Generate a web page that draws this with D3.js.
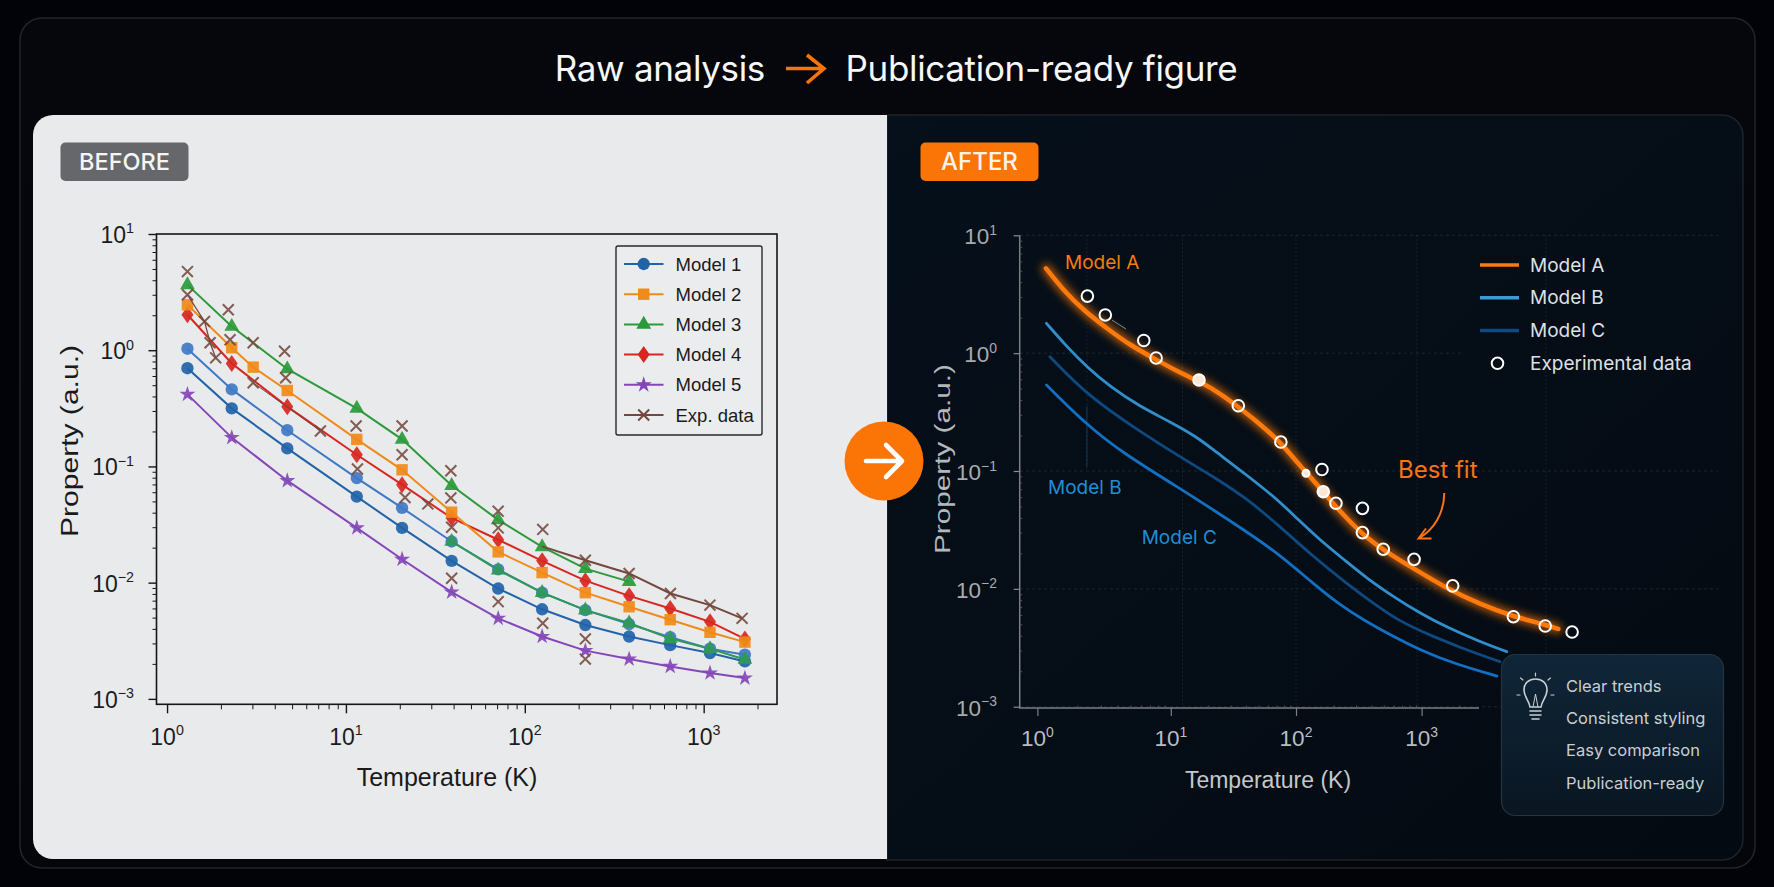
<!DOCTYPE html>
<html><head><meta charset="utf-8">
<script src="https://cdn.jsdelivr.net/npm/d3@7/dist/d3.min.js"></script>
<style>html,body{margin:0;padding:0;background:#020308;overflow:hidden}svg{display:block}</style>
</head><body><svg id="c" width="1774" height="887"></svg>
<script>
// ---------- data ----------
const titleLeft = "Raw analysis", titleRight = "Publication-ready figure";
const xTickValues = [1, 10, 100, 1000];
const yTickValues = [10, 1, 0.1, 0.01, 0.001];
const tempBefore = [1.3, 2.3, 4.7, 11.5, 20.6, 39, 71, 125, 218, 383, 650, 1085, 1700];
const model1Upper = [1.03, .46, .205, .0794, .044, .0226, .013, .0082, .0058, .0044, .0034, .0027, .0024];
const model1 = [.70, .316, .143, .055, .0296, .0154, .0089, .0059, .00432, .00344, .0029, .00248, .0021];
const temp2 = [1.3, 2.3, 3.03, 4.7, 11.5, 20.6, 39, 71, 125, 218, 383, 650, 1085, 1700];
const model2 = [2.46, 1.05, .715, .45, .171, .0935, .0404, .0184, .0122, .0082, .0062, .0048, .00374, .00308];
const temp3 = [1.3, 2.3, 4.7, 11.5, 20.6, 39, 71, 125, 218, 383];
const model3 = [3.65, 1.6, .69, .316, .171, .0684, .0347, .0203, .0132, .0102];
const temp3Tail = [39, 71, 125, 218, 383, 650, 1085, 1700];
const model3Tail = [.0226, .0128, .0082, .0058, .0045, .0033, .0027, .00218];
const model4 = [2.02, .77, .327, .126, .0697, .036, .0234, .0154, .0104, .0077, .006, .0046, .00328];
const model5 = [.417, .177, .0754, .0296, .0159, .0083, .00493, .00344, .0026, .0022, .0019, .00167, .00151];
const expT = [1.3,1.3,1.62,1.74,1.87,2.2,2.25,3.03,3.03,4.54,4.6,7.2,11.4,20.6,20.6,11.6,21.4,28.7,38.6,38.6,39,71,71,126,39,71,126,218,218,218,383,652,1084,1640];
const expV = [4.75,3.0,1.77,1.16,.86,2.23,1.23,1.16,.525,.98,.58,.202,.223,.223,.126,.095,.054,.0476,.0918,.0536,.03,.0412,.0296,.0287,.0109,.00686,.00447,.00328,.0022,.0156,.012,.00807,.00641,.00493];
const expHeadT = [1.3,1.62,1.74,1.87], expHeadV = [3.0,1.77,1.16,.86];
const expMidT = [3.03,7.2], expMidV = [.525,.202];
const expTailT = [125,218,383,652,1084,1640], expTailV = [.0205,.0156,.012,.00807,.00641,.00493];
const legendBefore = ["Model 1","Model 2","Model 3","Model 4","Model 5","Exp. data"];

const tempA = [1.16,1.56,2.21,3.3,4.94,7.83,11.8,17.1,24.7,35.7,48.5,74.6,101,137,186,253,344,495,859,1585,2924,5395,9960,12300];
const modelA = [5.25,3.44,2.32,1.63,1.17,.875,.682,.573,.456,.34,.265,.177,.12,.0839,.0568,.0397,.0286,.0214,.0149,.0101,.0074,.00581,.00493,.00457];
const tempB = [1.17,1.66,2.34,3.5,5.87,9.86,16.1,21.9,40.4,74.6,101,155,253,366,596,970,1585,2924,4775];
const modelB = [1.79,1.135,.767,.519,.352,.262,.195,.151,.0925,.055,.0397,.026,.017,.0123,.00859,.00621,.00472,.00356,.00293];
const tempC = [1.24,2.34,5.87,11.8,21.9,40.4,74.6,137,253,413,673,1239,2291,4217];
const modelC = [.933,.442,.216,.132,.0895,.0586,.0337,.0188,.0111,.00754,.00526,.00393,.00303,.00241];
const tempLow = [1.17,2.34,4.41,11.8,21.9,40.4,74.6,137,224,344,596,970,1791,3981];
const modelLow = [.537,.246,.141,.0713,.0467,.0305,.0194,.0111,.00729,.00545,.00393,.00303,.00233,.00182];
const dataT = [2.37,3.23,6.27,7.76,16.8,34.6,75.7,161,120,165,208,338,338,495,871,1770,5395,9680,15850];
const dataV = [3.05,2.11,1.28,.91,.592,.358,.176,.103,.0955,.0667,.0532,.0482,.03,.0217,.0178,.0106,.0058,.00484,.0043];
const dataFilled = [16.8,120,165];
const strayT = [3.62,4.62], strayV = [1.91,1.6];
const legendAfter = ["Model A","Model B","Model C","Experimental data"];
const tips = ["Clear trends","Consistent styling","Easy comparison","Publication-ready"];
const gridT = [2.35,12.4,100,920,9800];
const gridAccentV = [.356,.108];

// ---------- helpers ----------
const svg = d3.select("#c");
const SANS = "Inter, 'Noto Sans', sans-serif", ARIAL = "'Liberation Sans', Arial, sans-serif";
const defs = svg.append("defs");
const glow = defs.append("filter").attr("id","glow").attr("x","-20%").attr("y","-20%").attr("width","140%").attr("height","140%");
glow.append("feGaussianBlur").attr("stdDeviation",4);
const g1 = defs.append("linearGradient").attr("id","panel").attr("x1",0).attr("y1",0).attr("x2",1).attr("y2",1);
g1.append("stop").attr("offset",0).attr("stop-color","#06101a");
g1.append("stop").attr("offset",1).attr("stop-color","#040a12");
const g2 = defs.append("linearGradient").attr("id","tip").attr("x1",0).attr("y1",0).attr("x2",0).attr("y2",1);
g2.append("stop").attr("offset",0).attr("stop-color","#0f2638");
g2.append("stop").attr("offset",1).attr("stop-color","#0a1622");
const g3 = defs.append("linearGradient").attr("id","card").attr("x1",0).attr("y1",0).attr("x2",0).attr("y2",1);
g3.append("stop").attr("offset",0).attr("stop-color","#05070c");
g3.append("stop").attr("offset",1).attr("stop-color","#04060a");

function text(parent,x,y,s,o={}){
  return parent.append("text").attr("x",x).attr("y",y).text(s)
    .attr("font-family",o.font||SANS).attr("font-size",o.size||18).attr("fill",o.fill||"#fff")
    .attr("font-weight",o.weight||400).attr("text-anchor",o.anchor||"start");
}
function powLabel(parent,x,y,v,anchor,fill,size,font){
  const e = Math.round(Math.log10(v));
  const t = parent.append("text").attr("x",x).attr("y",y).attr("text-anchor",anchor)
    .attr("font-family",font).attr("font-size",size).attr("fill",fill);
  t.append("tspan").text("10");
  t.append("tspan").attr("dy",-size*0.42).attr("font-size",size*0.62).text(String(e).replace("-","\u2212"));
}
function minorTicks(lo,hi){ const r=[]; for(let e=lo;e<hi;e++) for(let m=2;m<10;m++) r.push(m*Math.pow(10,e)); return r; }

// ---------- frame ----------
svg.append("rect").attr("width",1774).attr("height",887).attr("fill","#020308");
svg.append("rect").attr("x",20).attr("y",18).attr("width",1735).attr("height",850).attr("rx",22)
  .attr("fill","url(#card)").attr("stroke","#22252b").attr("stroke-width",1.5);
text(svg,765,81,titleLeft,{size:35,anchor:"end",fill:"#f6f7f8"}).attr("letter-spacing",-.33);
text(svg,845.5,81,titleRight,{size:35,fill:"#f6f7f8"}).attr("letter-spacing",-.33);
svg.append("path").attr("d","M786,68.5H823M807,55L824,68.5L807,83").attr("fill","none")
  .attr("stroke","#fb7406").attr("stroke-width",3.6);

// panels
svg.append("path").attr("d","M887,115H1722a21,21 0 0 1 21,21V839a21,21 0 0 1 -21,21H887Z")
  .attr("fill","url(#panel)").attr("stroke","#1c232b").attr("stroke-width",1.5);
svg.append("path").attr("d","M887,115H53a20,20 0 0 0 -20,20V839a20,20 0 0 0 20,20H887Z").attr("fill","#e9eaec");

// badges
svg.append("rect").attr("x",60.5).attr("y",142.5).attr("width",128).attr("height",38.5).attr("rx",5).attr("fill","#65676b");
text(svg,124.5,170,"BEFORE",{size:23.5,anchor:"middle",weight:500,fill:"#f5f5f5"});
svg.append("rect").attr("x",920.5).attr("y",142.5).attr("width",118).attr("height",38.5).attr("rx",5).attr("fill","#fb7406");
text(svg,979.5,170,"AFTER",{size:24,anchor:"middle",weight:500,fill:"#fff4ea"});

// ---------- BEFORE chart ----------
const L = svg.append("g");
const xL = d3.scaleLog().domain([0.873,2570]).range([156.5,777]);
const yL = d3.scaleLog().domain([8.98e-4,10]).range([704.3,234]);
const INK = "#161616";
L.append("rect").attr("x",156.5).attr("y",234).attr("width",620.5).attr("height",470.3).attr("fill","none").attr("stroke",INK).attr("stroke-width",1.6);
function axisStyle(g,col,w){ g.select(".domain").remove(); g.selectAll("line").attr("stroke",col).attr("stroke-width",w); g.selectAll("text").remove(); }
L.append("g").attr("transform","translate(0,704.3)").call(d3.axisBottom(xL).tickValues(xTickValues).tickSize(9).tickFormat("")).call(axisStyle,INK,1.4);
L.append("g").attr("transform","translate(0,704.3)").call(d3.axisBottom(xL).tickValues(minorTicks(0,3).concat([2000])).tickSize(5).tickFormat("")).call(axisStyle,INK,1);
L.append("g").attr("transform","translate(156.5,0)").call(d3.axisLeft(yL).tickValues(yTickValues).tickSize(8).tickFormat("")).call(axisStyle,INK,1.4);
L.append("g").attr("transform","translate(156.5,0)").call(d3.axisLeft(yL).tickValues(minorTicks(-3,1)).tickSize(4).tickFormat("")).call(axisStyle,INK,1);
xTickValues.forEach(v=>powLabel(L,xL(v),745,v,"middle","#1c1c1c",23,ARIAL));
yTickValues.forEach(v=>powLabel(L,134,yL(v)+9,v,"end","#1c1c1c",23,ARIAL));
text(L,447,785.5,"Temperature (K)",{font:ARIAL,size:25,anchor:"middle",fill:"#1a1a1a"});
text(L,0,0,"Property (a.u.)",{font:ARIAL,size:23.5,anchor:"middle",fill:"#1a1a1a"})
  .attr("textLength",192).attr("lengthAdjust","spacingAndGlyphs").attr("transform","translate(77.5,441) rotate(-90)");

const lineL = d3.line().x(d=>xL(d[0])).y(d=>yL(d[1]));
const zip=(a,b)=>a.map((v,i)=>[v,b[i]]);
const sym = {circle:d3.symbol(d3.symbolCircle,120)(),square:d3.symbol(d3.symbolSquare,130)(),
  triangle:d3.symbol(d3.symbolTriangle,95)(),diamond:"M0,-8.5L6,0L0,8.5L-6,0Z",star:d3.symbol(d3.symbolStar,80)(),x:d3.symbol(d3.symbolTimes,80)()};
const seriesL = [
 {t:tempBefore,v:model1,c:"#2163a8",s:"circle"},
 {t:tempBefore,v:model1Upper,c:"#3f78c4",s:"circle"},
 {t:temp3Tail,v:model3Tail,c:"#2f9a55",s:"triangle"},
 {t:tempBefore,v:model5,c:"#8446b8",s:"star"},
 {t:tempBefore,v:model4,c:"#d8261f",s:"diamond"},
 {t:temp2,v:model2,c:"#f08a18",s:"square"},
 {t:temp3,v:model3,c:"#2b9a3a",s:"triangle"}
];
const BROWN="#74483c";
seriesL.forEach(s=>{
  const pts=zip(s.t,s.v);
  L.append("path").attr("d",lineL(pts)).attr("fill","none").attr("stroke",s.c).attr("stroke-width",2);
  L.append("g").selectAll("path").data(pts).join("path")
   .attr("transform",d=>`translate(${xL(d[0])},${yL(d[1])})`).attr("d",sym[s.s]).attr("fill",s.c).attr("fill-opacity",.92);
});
[[expHeadT,expHeadV,1.3],[expMidT,expMidV,1],[expTailT,expTailV,2]].forEach(([t,v,w])=>
  L.append("path").attr("d",lineL(zip(t,v))).attr("fill","none").attr("stroke",BROWN).attr("stroke-width",w));
L.append("g").selectAll("path").data(zip(expT,expV)).join("path")
  .attr("transform",d=>`translate(${xL(d[0])},${yL(d[1])})`).attr("d",sym.x)
  .attr("fill","none").attr("stroke",BROWN).attr("stroke-width",2).attr("stroke-opacity",.88);
// legend
L.append("rect").attr("x",616).attr("y",246).attr("width",146).attr("height",189).attr("rx",2).attr("fill","#ebecee").attr("stroke","#2a2a2a").attr("stroke-width",1.4);
const legC=[["#2163a8","circle"],["#f08a18","square"],["#2b9a3a","triangle"],["#d8261f","diamond"],["#8446b8","star"],[BROWN,"x"]];
const legY=d3.scalePoint().domain(legendBefore).range([264,415]);
legendBefore.forEach((n,i)=>{
  const y=legY(n), isX=legC[i][1]==="x";
  L.append("line").attr("x1",624).attr("x2",663.5).attr("y1",y).attr("y2",y).attr("stroke",legC[i][0]).attr("stroke-width",2);
  L.append("path").attr("transform",`translate(643.7,${y})`).attr("d",sym[legC[i][1]])
    .attr("fill",isX?"none":legC[i][0]).attr("stroke",isX?legC[i][0]:"none").attr("stroke-width",2);
  text(L,675.5,y+6.5,n,{font:ARIAL,size:18.5,fill:"#1a1a1a"});
});

// ---------- AFTER chart ----------
const R = svg.append("g");
const xR = d3.scaleLog().domain([1,10,100,1000,10000]).range([1037.4,1170.8,1296,1421.6,1547]);
const yR = d3.scaleLog().domain([1e-3,10]).range([706.7,235.3]);
const GRID="#1b2632";
yTickValues.forEach(v=>{
  const end = v===1?1461:1718;
  R.append("line").attr("x1",1020).attr("x2",end).attr("y1",yR(v)).attr("y2",yR(v)).attr("stroke",GRID).attr("stroke-dasharray","3 3");
});
gridT.forEach((v,i)=>R.append("line").attr("x1",xR(v)).attr("x2",xR(v)).attr("y1",235).attr("y2",i===0?470:708).attr("stroke",GRID).attr("stroke-width",.8).attr("stroke-dasharray","2 2"));
R.append("line").attr("x1",xR(gridT[0])).attr("x2",xR(gridT[0])).attr("y1",yR(gridAccentV[0])).attr("y2",yR(gridAccentV[1])).attr("stroke","#123a5c").attr("stroke-width",1);
R.append("line").attr("x1",1019.7).attr("x2",1019.7).attr("y1",235.3).attr("y2",708).attr("stroke","#7b7e84").attr("stroke-width",1.5);
R.append("line").attr("x1",1019).attr("x2",1479).attr("y1",708).attr("y2",708).attr("stroke","#7b7e84").attr("stroke-width",1.5);
R.append("g").attr("transform","translate(0,708)").call(d3.axisBottom(xR).tickValues(xTickValues).tickSize(8).tickFormat("")).call(axisStyle,"#7b7e84",1.2);
R.append("g").attr("transform","translate(0,708)").call(d3.axisTop(xR).tickValues(minorTicks(0,3).concat([2000])).tickSize(2.5).tickFormat("")).call(axisStyle,"#55585e",1);
R.append("g").attr("transform","translate(1019.7,0)").call(d3.axisLeft(yR).tickValues(yTickValues).tickSize(6).tickFormat("")).call(axisStyle,"#8a8d93",1.2);
R.append("g").attr("transform","translate(1019.7,0)").call(d3.axisRight(yR).tickValues(minorTicks(-3,1)).tickSize(2.5).tickFormat("")).call(axisStyle,"#55585e",1);
xTickValues.forEach(v=>powLabel(R,xR(v),746,v,"middle","#b9bcc1",22.5,ARIAL));
yTickValues.forEach(v=>powLabel(R,997,yR(v)+9,v,"end","#a7aaaf",22.5,ARIAL));
text(R,1268,788,"Temperature (K)",{font:ARIAL,size:23,anchor:"middle",fill:"#c4c7cb"});
text(R,0,0,"Property (a.u.)",{font:ARIAL,size:22,anchor:"middle",fill:"#b4b7bc"})
  .attr("textLength",190).attr("lengthAdjust","spacingAndGlyphs").attr("transform","translate(950,459) rotate(-90)");

const lineR = d3.line().x(d=>xR(d[0])).y(d=>yR(d[1])).curve(d3.curveBasis);
const drawR=(t,v,c,w)=>R.append("path").attr("d",lineR(zip(t,v))).attr("fill","none").attr("stroke",c).attr("stroke-width",w).attr("stroke-linecap","round");
drawR(tempLow,modelLow,"#1170c2",2.8);
drawR(tempC,modelC,"#0e4a82",2.8);
drawR(tempB,modelB,"#2f8fcd",2.8);
drawR(tempA,modelA,"#ff7a0a",9).attr("filter","url(#glow)").attr("opacity",.7);
drawR(tempA,modelA,"#ff7a0a",4.5);
R.append("path").attr("d",d3.line().x(d=>xR(d[0])).y(d=>yR(d[1]))(zip(strayT,strayV))).attr("stroke","#85888c").attr("stroke-width",1).attr("fill","none");
R.append("g").selectAll("circle").data(zip(dataT,dataV)).join("circle")
  .attr("cx",d=>xR(d[0])).attr("cy",d=>yR(d[1])).attr("r",d=>d[0]===120?3.5:5.8)
  .attr("fill",d=>dataFilled.includes(d[0])?"#fbe9d8":"none").attr("stroke","#fff").attr("stroke-width",2);
text(R,1065,269,"Model A",{size:19,fill:"#f97a12"});
text(R,1048,494,"Model B",{size:19,fill:"#1c8fd6"});
text(R,1141.7,544,"Model C",{size:19,fill:"#1c8fd6"});
text(R,1398,478,"Best fit",{size:24,fill:"#f97316"});
R.append("path").attr("d","M1444.3,493C1444,513 1434,530 1419,538M1426,528.5L1418.5,538.5L1431.5,538.5").attr("fill","none").attr("stroke","#f97316").attr("stroke-width",2);

// legend
const legRY=d3.scalePoint().domain(legendAfter).range([265,363.3]);
const legRC=["#ff7a0a","#3a9ad8","#0e4a82"];
legendAfter.forEach((n,i)=>{
  const y=legRY(n);
  if(i<3) R.append("line").attr("x1",1480).attr("x2",1519).attr("y1",y).attr("y2",y).attr("stroke",legRC[i]).attr("stroke-width",3.5);
  else R.append("circle").attr("cx",1497.5).attr("cy",y).attr("r",5.8).attr("fill","none").attr("stroke","#fff").attr("stroke-width",2);
  text(R,1530,y+6.5,n,{size:19,fill:"#dde0e4"});
});

// tip box
R.append("rect").attr("x",1501.5).attr("y",654.5).attr("width",222).attr("height",161).attr("rx",14).attr("fill","url(#tip)").attr("stroke","#26343f").attr("stroke-width",1.2);
const tipY=d3.scalePoint().domain(tips).range([691.5,788.5]);
tips.forEach(s=>text(R,1566,tipY(s),s,{size:16.5,fill:"#c9ced3"}));
const bulb=R.append("g").attr("fill","none").attr("stroke","#c9ced3").attr("stroke-width",1.6).attr("stroke-linecap","round");
bulb.append("path").attr("d","M1530,707C1529,700 1524,697 1524,690C1524,683 1529,679 1535.5,679C1542,679 1547,683 1547,690C1547,697 1542,700 1541,707Z");
bulb.append("path").attr("d","M1530,711H1541M1530,715H1541M1532,719H1539");
bulb.append("path").attr("d","M1533,707L1535.5,694L1538,707").attr("stroke-width",1);
bulb.append("path").attr("d","M1535.5,676V673M1523,680L1520.5,678M1548,680L1550.5,678M1520,695H1517M1551,695H1554").attr("stroke-width",1.2);

// central arrow
svg.append("circle").attr("cx",884).attr("cy",461).attr("r",39.5).attr("fill","#fb7406");
svg.append("path").attr("d","M866,461H901M886,445L902,461L886,477").attr("fill","none").attr("stroke","#fff").attr("stroke-width",4.6).attr("stroke-linecap","round").attr("stroke-linejoin","round");
</script></body></html>
